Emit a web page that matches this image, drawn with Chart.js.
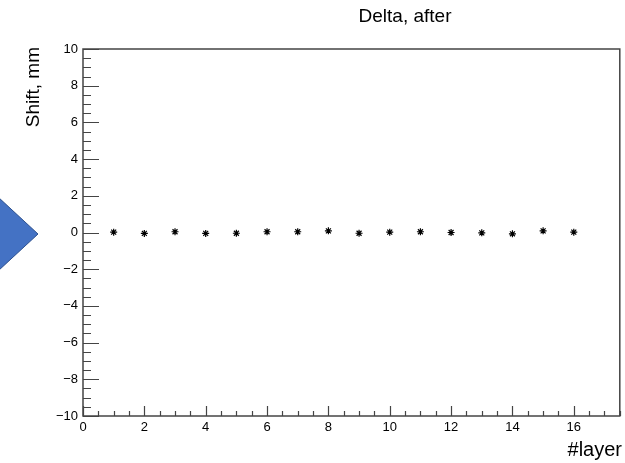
<!DOCTYPE html>
<html>
<head>
<meta charset="utf-8">
<script src="https://cdn.jsdelivr.net/npm/chart.js@4.4.1/dist/chart.umd.min.js"></script>
<style>
  html, body { margin: 0; padding: 0; background: #fff; }
  canvas { display: block; }
</style>
</head>
<body>
<canvas id="deltaChart" width="625" height="463"></canvas>
<script>
// data
const layers = [1, 2, 3, 4, 5, 6, 7, 8, 9, 10, 11, 12, 13, 14, 15, 16];
const shifts = [0.02, -0.05, 0.04, -0.05, -0.04, 0.04, 0.04, 0.09, -0.04, 0.02, 0.04, 0.00, -0.02, -0.07, 0.09, 0.02];
const xTicks = [0, 2, 4, 6, 8, 10, 12, 14, 16];
const yTicks = [-10, -8, -6, -4, -2, 0, 2, 4, 6, 8, 10];

const FONT = '"Liberation Sans", Arial, Helvetica, sans-serif';

// ROOT style frame, inward ticks, titles and the blue arrow on the left
const rootFrame = {
    id: 'rootFrame',
    beforeDraw(chart) {
        const c = chart.ctx;
        c.save();
        c.beginPath();
        c.moveTo(-2, 197);
        c.lineTo(38, 234);
        c.lineTo(-2, 271);
        c.closePath();
        c.fillStyle = '#4472C4';
        c.fill();
        c.strokeStyle = '#2F528F';
        c.lineWidth = 1;
        c.stroke();
        c.restore();
    },
    afterDraw(chart) {
        const c = chart.ctx;
        const a = chart.chartArea;
        const xs = chart.scales.x;
        const ys = chart.scales.y;
        c.save();
        c.strokeStyle = '#444';
        c.lineWidth = 1.5;
        c.strokeRect(a.left, a.top, a.right - a.left, a.bottom - a.top);

        c.lineWidth = 1.2;
        c.beginPath();
        for (let v = 0; v <= 17.5 + 1e-9; v += 0.5) {
            const px = Math.round(xs.getPixelForValue(v)) + 0.5;
            const len = (v % 2 === 0) ? 10 : 5;
            c.moveTo(px, a.bottom);
            c.lineTo(px, a.bottom - len);
        }
        for (let v = -10; v <= 10 + 1e-9; v += 0.5) {
            const py = Math.round(ys.getPixelForValue(v)) + 0.5;
            const len = (v % 2 === 0) ? 16 : 8;
            c.moveTo(a.left, py);
            c.lineTo(a.left + len, py);
        }
        c.stroke();

        c.fillStyle = '#000';
        c.font = '19px ' + FONT;
        c.textAlign = 'center';
        c.textBaseline = 'alphabetic';
        c.fillText('Delta, after', 405, 22);

        c.font = '20px ' + FONT;
        c.textAlign = 'right';
        c.fillText('#layer', 622, 456);

        c.font = '19px ' + FONT;
        c.translate(39, 47);
        c.rotate(-Math.PI / 2);
        c.textAlign = 'right';
        c.fillText('Shift, mm', 0, 0);
        c.restore();
    }
};

const ctx = document.getElementById('deltaChart').getContext('2d');

new Chart(ctx, {
    type: 'scatter',
    data: {
        datasets: [{
            label: 'Delta, after',
            data: layers.map((l, i) => ({ x: l, y: shifts[i] })),
            pointStyle: 'star',
            pointRadius: 3.5,
            pointBorderWidth: 1.2,
            pointBorderColor: '#000',
            pointBackgroundColor: '#000'
        }]
    },
    options: {
        responsive: false,
        animation: false,
        layout: { padding: { left: 0, right: 3, top: 49, bottom: 0 } },
        plugins: {
            legend: { display: false },
            tooltip: { enabled: false },
            title: { display: false }
        },
        scales: {
            x: {
                type: 'linear',
                min: 0,
                max: 17.5,
                afterBuildTicks: scale => { scale.ticks = xTicks.map(v => ({ value: v })); },
                afterFit: scale => { scale.height = 47; },
                grid: { display: false, drawTicks: false },
                border: { display: false },
                ticks: {
                    padding: 4,
                    color: '#000',
                    font: { family: FONT, size: 13 },
                    maxRotation: 0,
                    autoSkip: false
                }
            },
            y: {
                type: 'linear',
                min: -10,
                max: 10,
                afterBuildTicks: scale => { scale.ticks = yTicks.map(v => ({ value: v })); },
                afterFit: scale => { scale.width = 83; },
                grid: { display: false, drawTicks: false },
                border: { display: false },
                ticks: {
                    padding: 5,
                    color: '#000',
                    font: { family: FONT, size: 13 },
                    autoSkip: false,
                    callback: v => v < 0 ? '\u2212' + Math.abs(v) : String(v)
                }
            }
        }
    },
    plugins: [rootFrame]
});
</script>
</body>
</html>
